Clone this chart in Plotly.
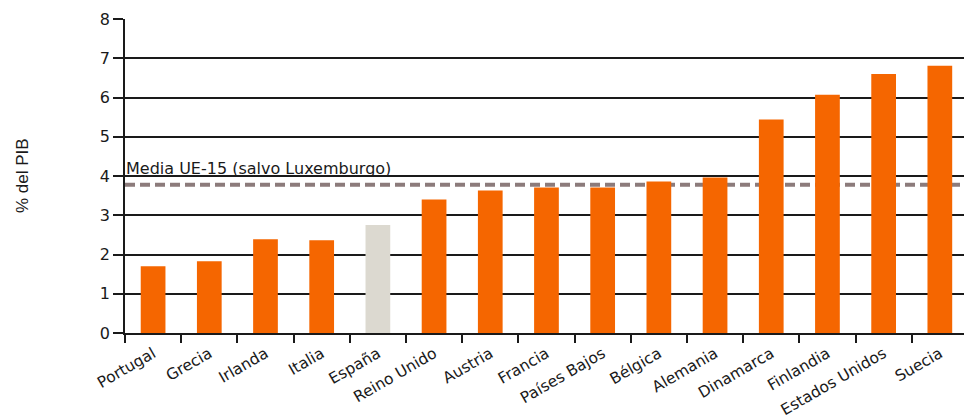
import plotly.graph_objects as go

paises = ["Portugal", "Grecia", "Irlanda", "Italia", "España", "Reino Unido",
          "Austria", "Francia", "Países Bajos", "Bélgica", "Alemania",
          "Dinamarca", "Finlandia", "Estados Unidos", "Suecia"]
valores = [1.70, 1.83, 2.39, 2.36, 2.75, 3.40, 3.63, 3.71, 3.71, 3.86, 3.96,
           5.44, 6.07, 6.60, 6.81]
media_ue15 = 3.78
media_texto = "Media UE-15 (salvo Luxemburgo)"
y_titulo = "% del PIB"

colores = ["#dcd9d0" if p == "España" else "#f56600" for p in paises]

fig = go.Figure()
fig.add_trace(go.Bar(x=paises, y=valores, marker_color=colores,
                     marker_line_width=0, width=0.44, hoverinfo="x+y"))

fig.add_shape(type="line", xref="paper", x0=0, x1=1, yref="y",
              y0=media_ue15, y1=media_ue15, layer="between",
              line=dict(color="#8c7b7b", width=4, dash="10px,5px"))

fig.add_annotation(xref="paper", x=0, yref="y", y=4.0, text=media_texto,
                   showarrow=False, xanchor="left", yanchor="bottom",
                   xshift=-1, yshift=-4,
                   font=dict(family="DejaVu Sans", size=16, color="#1a1a1a"))

fig.add_annotation(xref="paper", x=(22 - 125) / 839, yref="paper", y=0.5,
                   text=y_titulo, showarrow=False, textangle=-90,
                   xanchor="center", yanchor="middle",
                   font=dict(family="Liberation Sans", size=17, color="#1a1a1a"))

fig.update_layout(
    width=964, height=420,
    margin=dict(l=125, r=0, t=19, b=87),
    paper_bgcolor="white", plot_bgcolor="white",
    showlegend=False,
    font=dict(family="DejaVu Sans", size=15, color="#1a1a1a"),
    xaxis=dict(range=[-0.5, 14.43], tickangle=-30, ticks="outside",
               tickson="boundaries", ticklen=8, tickcolor="#1a1a1a",
               tickwidth=1.5, showline=True, linecolor="#1a1a1a", linewidth=1.5,
               showgrid=False, tickfont=dict(size=15.5), ticklabelstandoff=4),
    yaxis=dict(range=[0, 8], dtick=1, ticks="outside", ticklen=10,
               tickcolor="#1a1a1a", tickwidth=1.5, showline=True,
               linecolor="#1a1a1a", linewidth=1.5, showgrid=True,
               gridcolor="#1a1a1a", gridwidth=1.5, zeroline=False,
               tickfont=dict(size=16)),
)

fig.write_html("out.html")
